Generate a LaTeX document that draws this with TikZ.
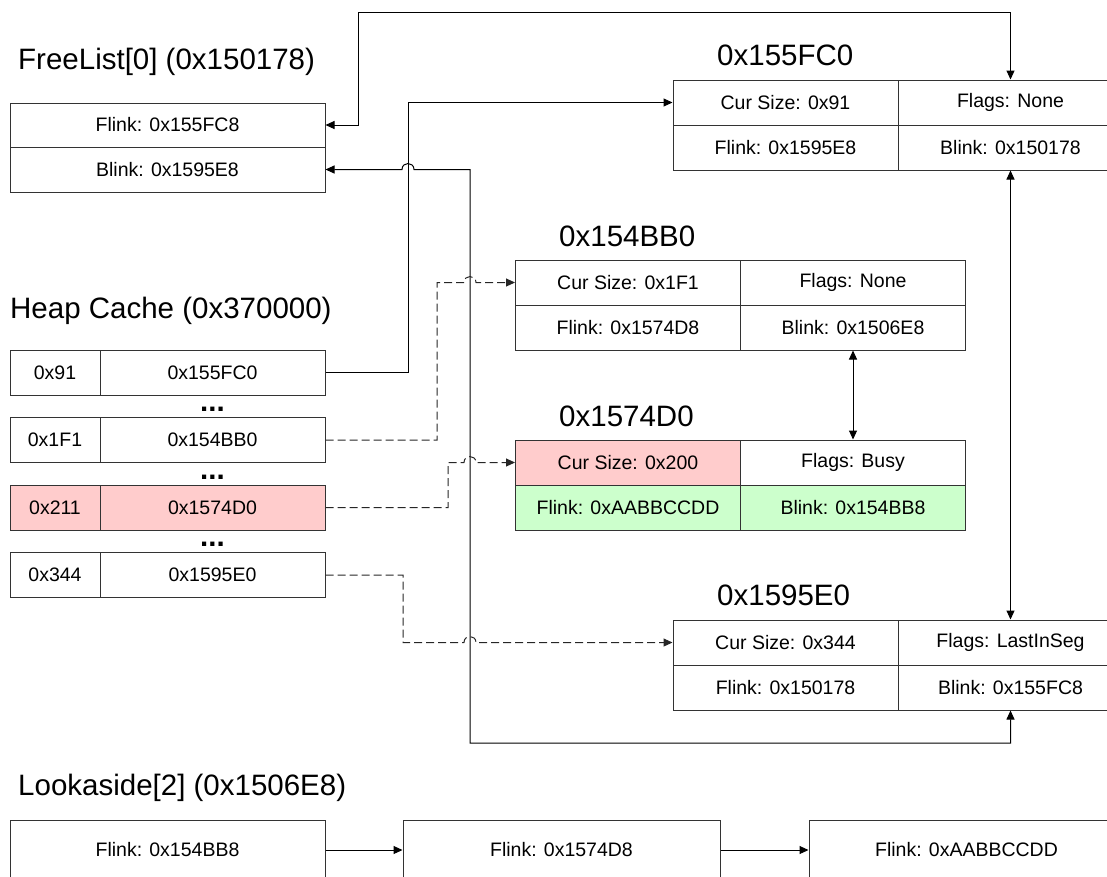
\documentclass[tikz,border=0pt]{standalone}
\usepackage{fontspec}
\setmainfont{Liberation Sans}
\usetikzlibrary{arrows.meta}
\tikzset{
  cell/.style={draw=black!80, line width=1pt, minimum height=45pt, inner sep=0pt, font=\fontsize{19.5}{23}\selectfont},
  wcell/.style={cell, minimum width=225pt},
  ncell/.style={cell, minimum width=90pt},
  pink/.style={fill=red!20},
  green/.style={fill=green!20},
  title/.style={anchor=base west, inner sep=0pt, font=\fontsize{29.5}{35}\selectfont},
  dots/.style={anchor=base, inner sep=0pt, font=\fontsize{29.5}{35}\selectfont\bfseries},
  tip/.tip={Triangle[length=9pt,width=8pt]},
  conn/.style={line width=1pt, draw=black, -tip},
  dconn/.style={conn, draw=black!85, dash pattern=on 8pt off 4pt},
  biconn/.style={line width=1pt, draw=black, tip-tip},
}
\begin{document}
\begin{tikzpicture}[x=1pt,y=-1pt]
\useasboundingbox (0,0) rectangle (1107,876);
\clip (0,0) rectangle (1107,876);

% FreeList
\node[title] (tfl) at (18,69) {FreeList[0] (0x150178)};
\node[cell, minimum width=315pt, minimum height=44pt] (fl1) at (167.5,125) {Flink: 0x155FC8};
\node[cell, minimum width=315pt] (fl2) at (167.5,169.5) {Blink: 0x1595E8};

% Heap cache
\node[title] (thc) at (10,318) {Heap Cache (0x370000)};
\node[ncell] (h1a) at (55,372.5) {0x91};
\node[wcell] (h1b) at (212.5,372.5) {0x155FC0};
\node[dots] (d1) at (212.5,411) {...};
\node[ncell] (h2a) at (55,440) {0x1F1};
\node[wcell] (h2b) at (212.5,440) {0x154BB0};
\node[dots] (d2) at (212.5,479) {...};
\node[ncell, pink] (h3a) at (55,507.5) {0x211};
\node[wcell, pink] (h3b) at (212.5,507.5) {0x1574D0};
\node[dots] (d3) at (212.5,546) {...};
\node[ncell] (h4a) at (55,575) {0x344};
\node[wcell] (h4b) at (212.5,575) {0x1595E0};

% chunk 0x155FC0
\node[title] (t1) at (717,65) {0x155FC0};
\node[wcell] (c1tl) at (785.5,102.5) {Cur Size: 0x91};
\node[wcell] (c1tr) at (1010.5,102.5) {Flags: None};
\node[wcell] (c1bl) at (785.5,147.5) {Flink: 0x1595E8};
\node[wcell] (c1br) at (1010.5,147.5) {Blink: 0x150178};

% chunk 0x154BB0
\node[title] (t2) at (559,246.5) {0x154BB0};
\node[wcell] (c2tl) at (628,282.5) {Cur Size: 0x1F1};
\node[wcell] (c2tr) at (853,282.5) {Flags: None};
\node[wcell] (c2bl) at (628,327.5) {Flink: 0x1574D8};
\node[wcell] (c2br) at (853,327.5) {Blink: 0x1506E8};

% chunk 0x1574D0
\node[title] (t3) at (559,426.5) {0x1574D0};
\node[wcell, pink] (c3tl) at (628,462.5) {Cur Size: 0x200};
\node[wcell] (c3tr) at (853,462.5) {Flags: Busy};
\node[wcell, green] (c3bl) at (628,507.5) {Flink: 0xAABBCCDD};
\node[wcell, green] (c3br) at (853,507.5) {Blink: 0x154BB8};

% chunk 0x1595E0
\node[title] (t4) at (717,605) {0x1595E0};
\node[wcell] (c4tl) at (785.5,642.5) {Cur Size: 0x344};
\node[wcell] (c4tr) at (1010.5,642.5) {Flags: LastInSeg};
\node[wcell] (c4bl) at (785.5,687.5) {Flink: 0x150178};
\node[wcell] (c4br) at (1010.5,687.5) {Blink: 0x155FC8};

% Lookaside
\node[title] (tla) at (18,795) {Lookaside[2] (0x1506E8)};
\node[cell, minimum width=315pt, minimum height=60pt] (la1) at (167.5,850) {Flink: 0x154BB8};
\node[cell, minimum width=317pt, minimum height=60pt] (la2) at (561.5,850) {Flink: 0x1574D8};
\node[cell, minimum width=315pt, minimum height=60pt] (la3) at (966.5,850) {Flink: 0xAABBCCDD};

% connectors
\draw[biconn] (fl1.east) -- (358,125) -- (358,12) -- (1010.5,12) -- (c1tr.north);
\draw[biconn] (fl2.east) -- (402,169.5) .. controls (402,161.5) and (414,161.5) .. (414,169.5)
   -- (470,169.5) -- (470,743) -- (1010.5,743) -- (c4br.south);
\draw[conn] (h1b.east) -- (408,372.5) -- (408,102.5) -- (c1tl.west);
\draw[dconn] (h2b.east) -- (437,440) -- (437,282.5) -- (464,282.5)
   .. controls (464,274.5) and (476,274.5) .. (476,282.5) -- (c2tl.west);
\draw[dconn] (h3b.east) -- (448,507.5) -- (448,462.5) -- (464,462.5)
   .. controls (464,454.5) and (476,454.5) .. (476,462.5) -- (c3tl.west);
\draw[dconn] (h4b.east) -- (403,575) -- (403,642.5) -- (464,642.5)
   .. controls (464,634.5) and (476,634.5) .. (476,642.5) -- (c4tl.west);
\draw[biconn] (c1br.south) -- (c4tr.north);
\draw[biconn] (c2br.south) -- (c3tr.north);
\draw[conn] (la1.east) -- (la2.west);
\draw[conn] (la2.east) -- (la3.west);
\end{tikzpicture}
\end{document}
